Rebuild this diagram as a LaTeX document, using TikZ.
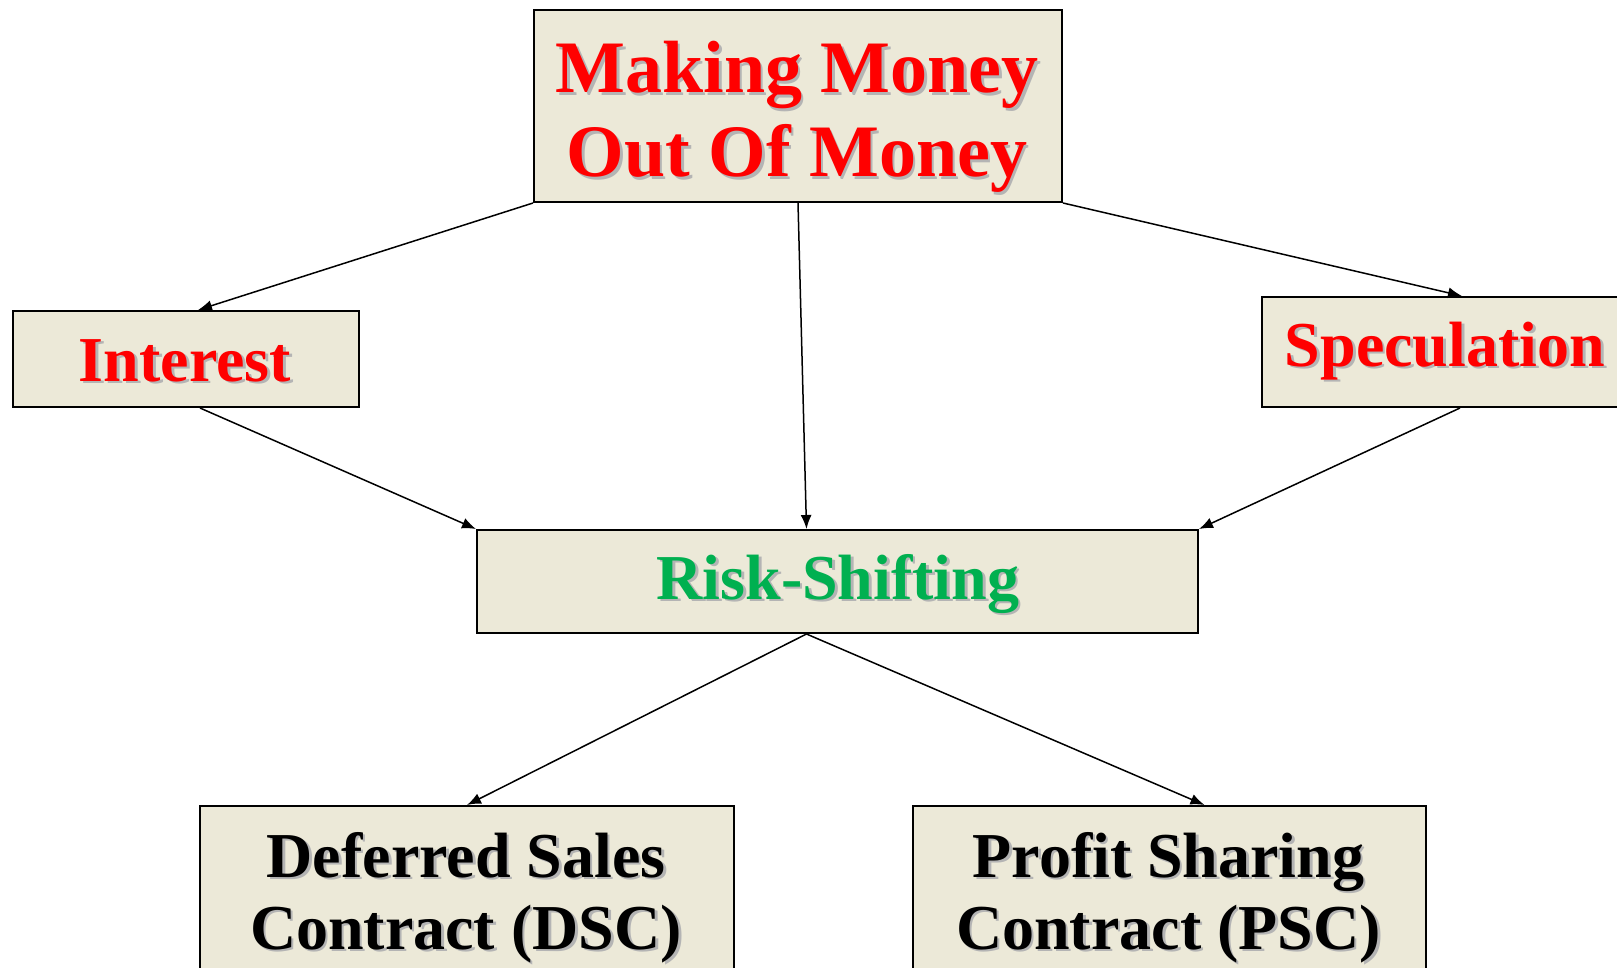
\documentclass[tikz,border=0pt]{standalone}
\usepackage{fontspec}
\setmainfont{Liberation Serif}
\usetikzlibrary{arrows.meta,calc}
\definecolor{boxfill}{HTML}{ECE9D8}
\definecolor{dropgray}{HTML}{B4B4B4}
\definecolor{hotred}{HTML}{FF0000}
\definecolor{leafgreen}{HTML}{00B050}
% text with a soft grey drop shadow below and to the right
\newcommand{\drop}[2]{\makebox[0pt][l]{\hspace{1.3pt}\raisebox{-1.3pt}{\textcolor{dropgray}{#2}}}\textcolor{#1}{#2}}
\begin{document}
\begin{tikzpicture}[x=0.5pt,y=-0.5pt,
  box/.style={draw=black,line width=1pt,fill=boxfill,anchor=north west,inner sep=0pt},
  bigtxt/.style={anchor=base,inner sep=0pt,font=\bfseries\fontsize{37pt}{42pt}\selectfont},
  midtxt/.style={anchor=base,inner sep=0pt,font=\bfseries\fontsize{32pt}{36pt}\selectfont},
  link/.style={line width=0.75pt,-{Latex[length=7pt,width=5.5pt]}}]
\useasboundingbox (0,0) rectangle (1617,968);
\fill[white] (0,0) rectangle (1617,968);
\clip (0,0) rectangle (1617,968);

% boxes
\node[box,minimum width=264pt,minimum height=96pt] (top) at (533,9) {};
\node[box,minimum width=173pt,minimum height=48pt] (int) at (12,310) {};
\node[box,minimum width=185pt,minimum height=55pt] (spec) at (1261,296) {};
\node[box,minimum width=360.5pt,minimum height=51.5pt] (risk) at (476,529) {};
\node[box,minimum width=267pt,minimum height=100pt] (dsc) at (199,805) {};
\node[box,minimum width=256.5pt,minimum height=100pt] (psc) at (912,805) {};

% labels
\node[bigtxt] (topA) at (797,93) {\drop{hotred}{Making Money}};
\node[bigtxt] (topB) at (797,177) {\drop{hotred}{Out Of Money}};
\node[midtxt] (intT) at (185,381) {\drop{hotred}{Interest}};
\node[midtxt] (specT) at (1445,366) {\drop{hotred}{Speculation}};
\node[midtxt] (riskT) at (838,599) {\drop{leafgreen}{Risk-Shifting}};
\node[midtxt] (dscA) at (466,877) {\drop{black}{Deferred Sales}};
\node[midtxt] (dscB) at (466,949) {\drop{black}{Contract (DSC)}};
\node[midtxt] (pscA) at (1168.5,877) {\drop{black}{Profit Sharing}};
\node[midtxt] (pscB) at (1168.5,949) {\drop{black}{Contract (PSC)}};

% connectors
\draw[link] (top.south west) -- ($(int.north)+(12,0)$);
\draw[link] (top.south) -- ($(risk.north)+(-31,0)$);
\draw[link] (top.south east) -- ($(spec.north)+(15,0)$);
\draw[link] ($(int.south)+(14,0)$) -- (risk.north west);
\draw[link] ($(spec.south)+(13,0)$) -- (risk.north east);
\draw[link] ($(risk.south)+(-31,0)$) -- (dsc.north);
\draw[link] ($(risk.south)+(-31,0)$) -- ($(psc.north)+(35,0)$);
\end{tikzpicture}
\end{document}
